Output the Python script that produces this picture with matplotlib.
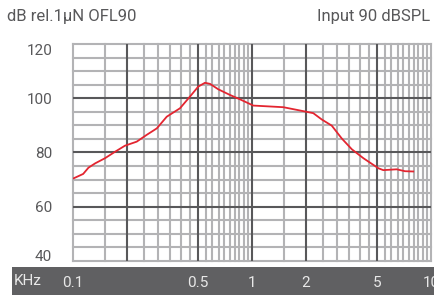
import numpy as np
import matplotlib
matplotlib.use("Agg")
import matplotlib.pyplot as plt
from matplotlib.patches import Rectangle

plt.rcParams['font.family'] = ['Roboto', 'DejaVu Sans']

# response curve (kHz, dB)
freq = [0.101, 0.114, 0.122, 0.133, 0.151, 0.172, 0.195, 0.227, 0.258, 0.294,
        0.334, 0.396, 0.450, 0.501, 0.546, 0.583, 0.648, 0.754, 0.857, 1.017,
        1.496, 2.02, 2.20, 2.45, 2.79, 3.17, 3.61, 4.19, 5.08, 5.41,
        6.43, 7.16, 7.96]
level = [70.5, 72.1, 74.4, 76.0, 77.9, 80.3, 82.5, 84.0, 86.5, 88.9,
         93.2, 96.3, 100.6, 104.3, 105.7, 105.3, 103.3, 101.2, 99.6, 97.3,
         96.7, 95.0, 94.5, 92.2, 89.9, 85.2, 81.2, 77.9, 74.2, 73.5,
         73.8, 73.1, 73.0]

xtick_vals = [0.1, 0.5, 1, 2, 5, 10]
xtick_labels = ["0.1", "0.5", "1", "2", "5", "10"]
ytick_vals = [40, 60, 80, 100, 120]

LIGHT = "#b3b3b5"
DARK = "#58585a"
TXT = "#58585a"

fig = plt.figure(figsize=(4.35, 2.96), dpi=100)

# dark bar under the axis
fig.patches.append(Rectangle((12/435, 1/296), 423/435, 28/296, transform=fig.transFigure,
                             facecolor="#606062", edgecolor="none", zorder=-5))
fig.text(14/435, 15/296, "KHz", color="#e8e8e8", fontsize=11, va="center", ha="left")

ax = fig.add_axes([73/435, 35/296, 358/435, 217/296])
ax.set_xscale("log")
ax.set_xlim(0.1, 10)
ax.set_ylim(40, 120)

# grid
light_x = np.concatenate([[0.1, 0.15], np.arange(0.25, 0.46, 0.05), np.arange(0.55, 0.96, 0.05),
                          [1.5], np.arange(2.5, 4.6, 0.5), np.arange(5.5, 10.1, 0.5)])
dark_x = [0.2, 0.5, 1, 2, 5]
light_y = [y for y in range(40, 121, 5) if y not in (60, 80, 100)]
dark_y = [60, 80, 100]
for x in light_x:
    ax.axvline(x, color=LIGHT, lw=1.5, clip_on=False, zorder=1)
for y in light_y:
    ax.axhline(y, color=LIGHT, lw=1.5, clip_on=False, zorder=1)
for x in dark_x:
    ax.axvline(x, color=DARK, lw=1.5, zorder=2)
for y in dark_y:
    ax.axhline(y, color=DARK, lw=1.5, zorder=2)

ax.plot(freq, level, color="#e32530", lw=1.3, zorder=3)

for s in ax.spines.values():
    s.set_visible(False)
ax.minorticks_off()
ax.set_xticks(xtick_vals, xtick_labels)
ax.set_yticks(ytick_vals, [str(v) for v in ytick_vals])
ax.tick_params(axis="x", length=0, pad=11, labelsize=11, labelcolor="#e8e8e8")
ax.tick_params(axis="y", length=0, pad=15, labelsize=11, labelcolor=TXT)
for lab in ax.get_yticklabels():
    if lab.get_text() == "120":
        lab.set_va("top")
    elif lab.get_text() == "40":
        lab.set_va("baseline")

fig.text(7/435, 275/296, "dB rel.1µN OFL90", color=TXT, fontsize=12, ha="left", va="baseline")
fig.text(430/435, 275/296, "Input 90 dBSPL", color=TXT, fontsize=12, ha="right", va="baseline")

fig.savefig("out.png", dpi=100)
